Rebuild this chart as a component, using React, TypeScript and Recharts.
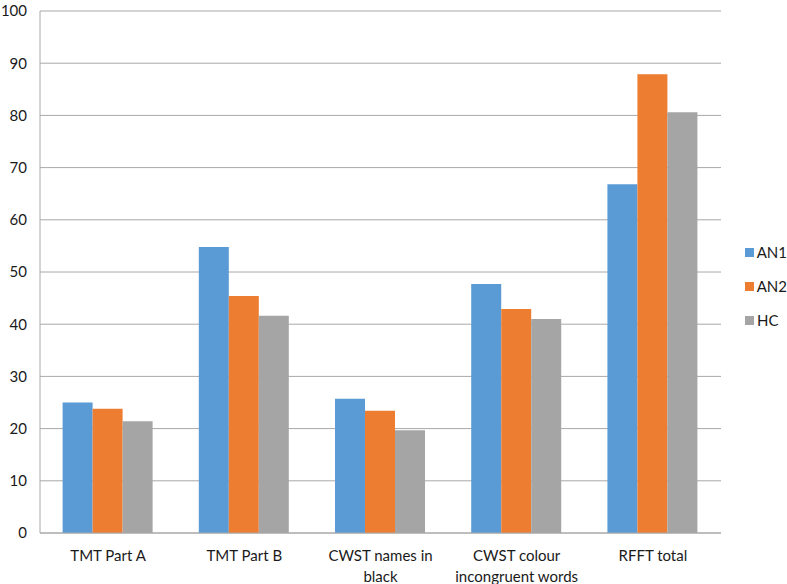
import React from 'react';
import { BarChart, Bar, XAxis, YAxis, CartesianGrid, Legend } from 'recharts';

const categories = ['TMT Part A', 'TMT Part B', 'CWST names in\nblack', 'CWST colour\nincongruent words', 'RFFT total'];
const an1 = [25.0, 54.8, 25.7, 47.7, 66.8];
const an2 = [23.8, 45.4, 23.4, 42.9, 87.9];
const hc = [21.4, 41.6, 19.7, 41.0, 80.6];
const yTicks = [0, 10, 20, 30, 40, 50, 60, 70, 80, 90, 100];
const seriesNames = ['AN1', 'AN2', 'HC'];
const seriesColors = ['#5B9BD5', '#ED7D31', '#A5A5A5'];

const data = categories.map((c, i) => ({ name: c, AN1: an1[i], AN2: an2[i], HC: hc[i] }));

const FONT = 'Lato, "Open Sans", sans-serif';
const GRID = '#a8a8a8';

const XTick = (props: any) => {
  const { x, y, payload } = props;
  const lines = String(payload.value).split('\n');
  return (
    <text x={x} y={y} textAnchor="middle" fill="#1a1a1a" fontSize={15} fontFamily={FONT}>
      {lines.map((l, i) => (
        <tspan key={i} x={x} dy={i === 0 ? 28 : 21}>{l}</tspan>
      ))}
    </text>
  );
};

const LegendContent = (props: any) => {
  const { payload } = props;
  return (
    <div style={{ fontFamily: FONT, fontSize: 15, color: '#1a1a1a' }}>
      {(payload || []).map((p: any) => (
        <div key={p.value} style={{ display: 'flex', alignItems: 'center', height: 34 }}>
          <span style={{ display: 'inline-block', width: 9, height: 9, background: p.color, marginRight: 3 }} />
          <span>{p.value}</span>
        </div>
      ))}
    </div>
  );
};

export default function App() {
  return (
    <div style={{ position: 'absolute', left: 0, top: 0, background: '#fff' }}>
      <BarChart
        width={787}
        height={584}
        data={data}
        margin={{ top: 11, right: 66, bottom: 21, left: 0 }}
        barCategoryGap="16.6%"
        barGap={0}
      >
        <CartesianGrid vertical={false} stroke={GRID} strokeWidth={1} />
        <XAxis
          dataKey="name"
          height={30}
          tickLine={false}
          tickSize={0}
          tickMargin={0}
          axisLine={{ stroke: GRID, strokeWidth: 1 }}
          tick={<XTick />}
          interval={0}
        />
        <YAxis
          width={40}
          domain={[0, 100]}
          ticks={yTicks}
          tickLine={false}
          tickSize={0}
          tickMargin={13}
          axisLine={{ stroke: GRID, strokeWidth: 1 }}
          tick={{ fill: '#1a1a1a', fontSize: 15, fontFamily: FONT }}
          interval={0}
        />
        <Legend
          layout="horizontal"
          align="center"
          verticalAlign="middle"
          content={<LegendContent />}
          wrapperStyle={{ position: 'absolute', left: 745, top: 235, width: 42, height: 110 }}
        />
        {seriesNames.map((s, i) => (
          <Bar key={s} dataKey={s} name={s} fill={seriesColors[i]} isAnimationActive={false} />
        ))}
      </BarChart>
    </div>
  );
}
